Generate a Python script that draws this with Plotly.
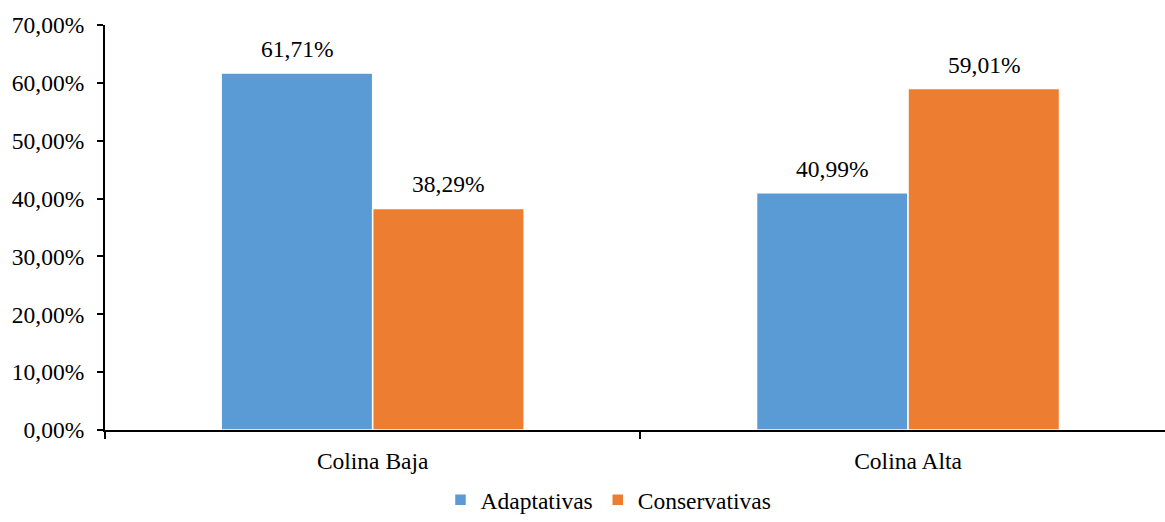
import plotly.graph_objects as go

categories = ["Colina Baja", "Colina Alta"]
adaptativas = [0.6171, 0.4099]
conservativas = [0.3829, 0.5901]
series_names = ["Adaptativas", "Conservativas"]
colors = ["#5B9BD5", "#ED7D31"]
y_ticks = [0, 0.1, 0.2, 0.3, 0.4, 0.5, 0.6, 0.7]

FONT = "Liberation Serif"
FSIZE = 23.5
BARGAP = 0.434

fig = go.Figure()
for name, vals, col in zip(series_names, [adaptativas, conservativas], colors):
    fig.add_trace(go.Bar(
        x=categories, y=vals, name=name,
        marker=dict(color=col, line=dict(color="white", width=1.5)),
    ))

# value labels above each bar, centred on the grouped bar positions
bar_w = (1 - BARGAP) / 2
for k, vals in enumerate([adaptativas, conservativas]):
    offset = (k - 0.5) * bar_w
    for i, v in enumerate(vals):
        fig.add_annotation(
            x=i + offset, y=v, xref="x", yref="y",
            text=f"{v*100:.2f}%".replace(".", ","),
            showarrow=False, yanchor="bottom", yshift=9,
            font=dict(family=FONT, size=FSIZE, color="#000"),
        )

fig.update_layout(
    width=1165, height=522,
    margin=dict(l=105, r=0, t=25, b=92, autoexpand=False),
    paper_bgcolor="white", plot_bgcolor="white",
    barmode="group", bargap=BARGAP, bargroupgap=0,
    separators=",.",
    font=dict(family=FONT, size=FSIZE, color="#000"),
    showlegend=True,
    legend=dict(orientation="h", x=0.475, xanchor="center",
                yref="container", y=0, yanchor="bottom",
                font=dict(family=FONT, size=FSIZE, color="#000"), itemwidth=30,
                traceorder="normal"),
)
fig.update_xaxes(
    type="category", range=[-0.5, 1.48],
    showline=True, linecolor="#000", linewidth=2,
    ticks="outside", tickson="boundaries", ticklen=7, tickwidth=2, tickcolor="#000",
    showgrid=False, zeroline=False, ticklabelstandoff=9,
)
fig.update_yaxes(
    range=[0, 0.7], tickvals=y_ticks, tickformat=".2%",
    showline=True, linecolor="#000", linewidth=2,
    ticks="outside", ticklen=6, tickwidth=2, tickcolor="#000",
    showgrid=False, zeroline=False, ticklabelstandoff=8,
)

fig.write_html("out.html")
